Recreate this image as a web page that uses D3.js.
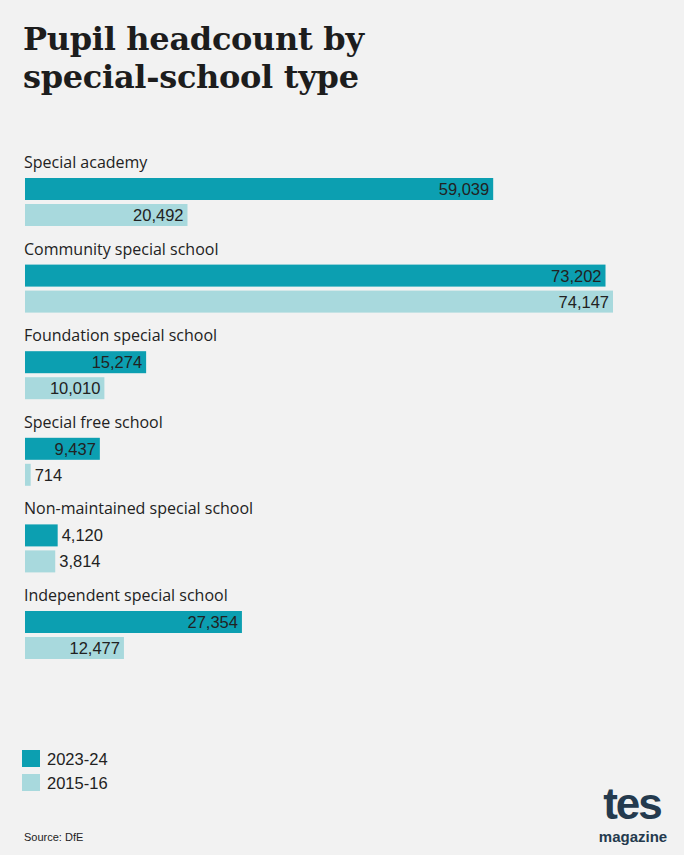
<!DOCTYPE html>
<html><head><meta charset="utf-8">
<script src="https://cdn.jsdelivr.net/npm/d3@7"></script>
<style>body{margin:0;background:#f2f2f2}</style></head>
<body><svg id="c" width="684" height="855"></svg>
<script>
const categories=["Special academy","Community special school","Foundation special school","Special free school","Non-maintained special school","Independent special school"];
const values2324=[59039,73202,15274,9437,4120,27354];
const values1516=[20492,74147,10010,714,3814,12477];
const seriesNames=["2023-24","2015-16"];
const colors=["#0c9fb1","#a8d9dd"];
const svg=d3.select("#c");
svg.append("rect").attr("width",684).attr("height",855).attr("fill","#f2f2f2");
const t=svg.append("text").attr("font-family","DejaVu Serif").attr("font-weight","bold").attr("font-size",32).attr("letter-spacing",-0.3).attr("fill","#1d1d1d");
t.append("tspan").attr("x",23).attr("y",50).text("Pupil headcount by");
t.append("tspan").attr("x",23).attr("y",88).text("special-school type");
const x=d3.scaleLinear().domain([0,74147]).range([25,613]);
const g=d3.scaleLinear().domain([0,1]).range([162,248.6]);
const fmt=d3.format(",");
categories.forEach((c,i)=>{
  const y0=g(i);
  svg.append("text").attr("x",24).attr("y",y0+6).attr("font-family","Open Sans").attr("font-size",16).attr("fill","#222").text(c);
  [values2324[i],values1516[i]].forEach((v,j)=>{
    const by=y0+16+j*26, w=x(v)-x(0);
    svg.append("rect").attr("x",x(0)).attr("y",by).attr("width",w).attr("height",22).attr("fill",colors[j]);
    const inside=w>50;
    svg.append("text").attr("x",inside?x(v)-4:x(v)+4).attr("y",by+17).attr("text-anchor",inside?"end":"start")
      .attr("font-family","Arial, Liberation Sans").attr("font-size",16.5).attr("fill","#222").text(fmt(v));
  });
});
seriesNames.forEach((s,j)=>{
  svg.append("rect").attr("x",22).attr("y",750+j*24).attr("width",18).attr("height",17).attr("fill",colors[j]);
  svg.append("text").attr("x",47).attr("y",765+j*24).attr("font-family","Arial, Liberation Sans").attr("font-size",16.5).attr("fill","#222").text(s);
});
svg.append("text").attr("x",24).attr("y",841).attr("font-family","Arial, Liberation Sans").attr("font-size",11).attr("fill","#222").text("Source: DfE");
svg.append("text").attr("x",632).attr("y",819).attr("text-anchor","middle").attr("font-family","Arial, Liberation Sans").attr("font-weight","bold").attr("font-size",44).attr("letter-spacing",-2).attr("fill","#243a4e").text("tes");
svg.append("text").attr("x",633).attr("y",842).attr("text-anchor","middle").attr("font-family","Arial, Liberation Sans").attr("font-weight","bold").attr("font-size",15).attr("fill","#243a4e").text("magazine");
</script></body></html>
